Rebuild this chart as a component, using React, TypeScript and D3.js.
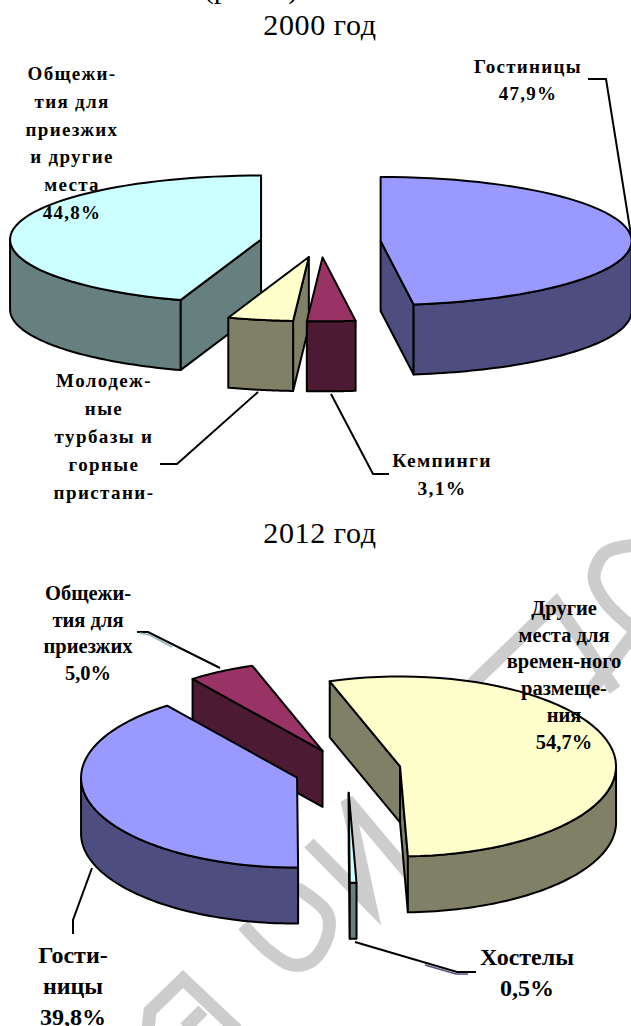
import React from 'react';
import * as d3 from 'd3';

// 2000 год
const labels2000 = ['Гостиницы', 'Кемпинги', 'Молодежные турбазы и горные пристанища', 'Общежития для приезжих и другие места'];
const values2000 = [47.9, 3.1, 4.2, 44.8];
const colors2000 = ['blue', 'wine', 'yellow', 'cyan'];

// 2012 год
const labels2012 = ['Другие места для временного размещения', 'Хостелы', 'Гостиницы', 'Общежития для приезжих'];
const values2012 = [54.7, 0.5, 39.8, 5.0];
const colors2012 = ['yellow', 'cyan', 'blue', 'wine'];

const palette: Record<string, { top: string; wall: string }> = {
  blue: { top: '#9999ff', wall: '#4d4d80' },
  wine: { top: '#993366', wall: '#4d1a33' },
  yellow: { top: '#ffffcc', wall: '#808066' },
  cyan: { top: '#ccffff', wall: '#668080' },
};

const font = '"Liberation Serif", "Times New Roman", serif';

// Label blocks: lines are split the way the picture splits them
const textBlocks = [
  { x: 528, y: 73, step: 27, size: 19, spacing: 1.3, lines: ['Гостиницы', '47,9%'] },
  { x: 442, y: 467, step: 28, size: 19.5, spacing: 1.3, lines: ['Кемпинги', '3,1%'] },
  { x: 104, y: 387, step: 28, size: 19, spacing: 1.4, lines: ['Молодеж-', 'ные', 'турбазы и', 'горные', 'пристани-'] },
  { x: 72, y: 80, step: 27.8, size: 19, spacing: 1.3, lines: ['Общежи-', 'тия для', 'приезжих', 'и другие', 'места', '44,8%'] },
  { x: 564, y: 615, step: 26.7, size: 20.5, spacing: 0, lines: ['Другие', 'места для', 'времен-ного', 'размеще-', 'ния', '54,7%'] },
  { x: 527, y: 965, step: 31, size: 24, spacing: 0, lines: ['Хостелы', '0,5%'] },
  { x: 73, y: 963, step: 31, size: 24, spacing: 0, lines: ['Гости-', 'ницы', '39,8%'] },
  { x: 88, y: 600, step: 26.7, size: 20.5, spacing: 0, lines: ['Общежи-', 'тия для', 'приезжих', '5,0%'] },
];

const leaders: [number, number][][] = [
  [[588, 79], [606, 79], [631, 235]],
  [[331, 394], [373, 474], [389, 474]],
  [[258, 392], [177, 464], [160, 464]],
  [[355, 942], [457, 972], [476, 972]],
  [[92, 868], [73, 920], [73, 934]],
  [[220, 668], [148, 632], [137, 632]],
];
// thin coloured sliver along two of the leaders
const leaderTints: { color: string; pts: [number, number][] }[] = [
  { color: '#4d4d80', pts: [[425, 965], [456, 974], [468, 974]] },
  { color: '#8fb5b5', pts: [[140, 633], [150, 635], [172, 647]] },
];

// Grey watermark strokes behind the lower chart
const watermarkLines: [number, number][][] = [
  [[309, 843], [370, 905], [347, 800], [410, 875]],
  [[470, 686], [556, 603], [615, 690]],
  [[590, 692], [640, 625]],
  [[237, 1030], [183, 979], [150, 1011], [148, 1030]],
  [[203, 1010], [185, 1028]],
];
const watermarkRings: [number, number][][] = [
  [[297, 888], [327, 913], [328, 935], [313, 960], [293, 965], [270, 952], [243, 925]],
  [[635, 545], [605, 553], [594, 577], [604, 600], [635, 630]],
];

type PieProps = {
  values: number[];
  colors: string[];
  cx: number;
  cy: number;
  rx: number;
  ry: number;
  depth: number;
  explode: number;
  rotation: number;
};

const line = d3.line();
const closed = (pts: [number, number][]) => line(pts) + 'Z';

function Pie3D({ values, colors, cx, cy, rx, ry, depth, explode, rotation }: PieProps) {
  const start = (rotation * Math.PI) / 180;
  const arcs = d3.pie<number>().sort(null).startAngle(start).endAngle(start + 2 * Math.PI)(values);

  const slices = arcs.map((a, i) => {
    const mid = (a.startAngle + a.endAngle) / 2;
    const ax = cx + explode * rx * Math.sin(mid);
    const ay = cy - explode * ry * Math.cos(mid);
    const rim = (t: number): [number, number] => [ax + rx * Math.sin(t), ay - ry * Math.cos(t)];
    const sample = (t0: number, t1: number) =>
      d3.range(61).map(k => rim(t0 + ((t1 - t0) * k) / 60));
    const down = (p: [number, number]): [number, number] => [p[0], p[1] + depth];
    const apex: [number, number] = [ax, ay];

    const walls: string[] = [];
    if (Math.sin(a.startAngle) < -1e-6) {
      const p = rim(a.startAngle);
      walls.push(closed([apex, p, down(p), down(apex)]));
    }
    if (Math.sin(a.endAngle) > 1e-6) {
      const p = rim(a.endAngle);
      walls.push(closed([apex, p, down(p), down(apex)]));
    }
    const lo = Math.max(a.startAngle, Math.PI / 2);
    const hi = Math.min(a.endAngle, (3 * Math.PI) / 2);
    if (lo < hi) {
      const top = sample(lo, hi);
      walls.push(closed([...top, ...top.slice().reverse().map(down)]));
    }
    const face = closed([apex, ...sample(a.startAngle, a.endAngle)]);
    return { i, ay, walls, face, color: palette[colors[i]] };
  });

  // back to front
  const ordered = d3.sort(slices, s => s.ay);

  return (
    <g stroke="#000" strokeWidth={2} strokeLinejoin="round">
      {ordered.map(s => (
        <g key={s.i}>
          {s.walls.map((d, k) => (
            <path key={k} d={d} fill={s.color.wall} />
          ))}
          <path d={s.face} fill={s.color.top} />
        </g>
      ))}
    </g>
  );
}

export default function App() {
  const ring = d3.line().curve(d3.curveCatmullRom);
  return (
    <svg
      width={631}
      height={1026}
      viewBox="0 0 631 1026"
      style={{ position: 'absolute', left: 0, top: 0, display: 'block', background: '#fff' }}
    >
      <g fill="none" stroke="#cdcdcd" strokeWidth={13}>
        {watermarkLines.map((pts, i) => (
          <path key={i} d={line(pts) ?? ''} />
        ))}
        {watermarkRings.map((pts, i) => (
          <path key={i} d={ring(pts) ?? ''} />
        ))}
      </g>

      <text x={251} y={-2} textAnchor="middle" fontFamily={font} fontSize={30}>
        (рис. 1)
      </text>
      <text x={320} y={35} textAnchor="middle" fontFamily={font} fontSize={30} letterSpacing={0.6}>
        2000 год
      </text>
      <text x={320} y={543} textAnchor="middle" fontFamily={font} fontSize={30} letterSpacing={0.6}>
        2012 год
      </text>

      <Pie3D values={values2000} colors={colors2000} cx={320.5} cy={242} rx={251} ry={64} depth={70} explode={0.24} rotation={0} />
      <Pie3D values={values2012} colors={colors2012} cx={347.6} cy={770.5} rx={216} ry={90} depth={56} explode={0.247} rotation={-19} />

      <g fill="none" stroke="#000" strokeWidth={2}>
        {leaders.map((pts, i) => (
          <path key={i} d={line(pts) ?? ''} />
        ))}
      </g>
      <g fill="none" strokeWidth={1.5}>
        {leaderTints.map((t, i) => (
          <path key={i} d={line(t.pts) ?? ''} stroke={t.color} />
        ))}
      </g>

      {textBlocks.map((b, i) => (
        <text
          key={i}
          fontFamily={font}
          fontWeight="bold"
          fontSize={b.size}
          letterSpacing={b.spacing}
          textAnchor="middle"
          fill="#000"
        >
          {b.lines.map((l, k) => (
            <tspan key={k} x={b.x} y={b.y + k * b.step}>
              {l}
            </tspan>
          ))}
        </text>
      ))}
    </svg>
  );
}
